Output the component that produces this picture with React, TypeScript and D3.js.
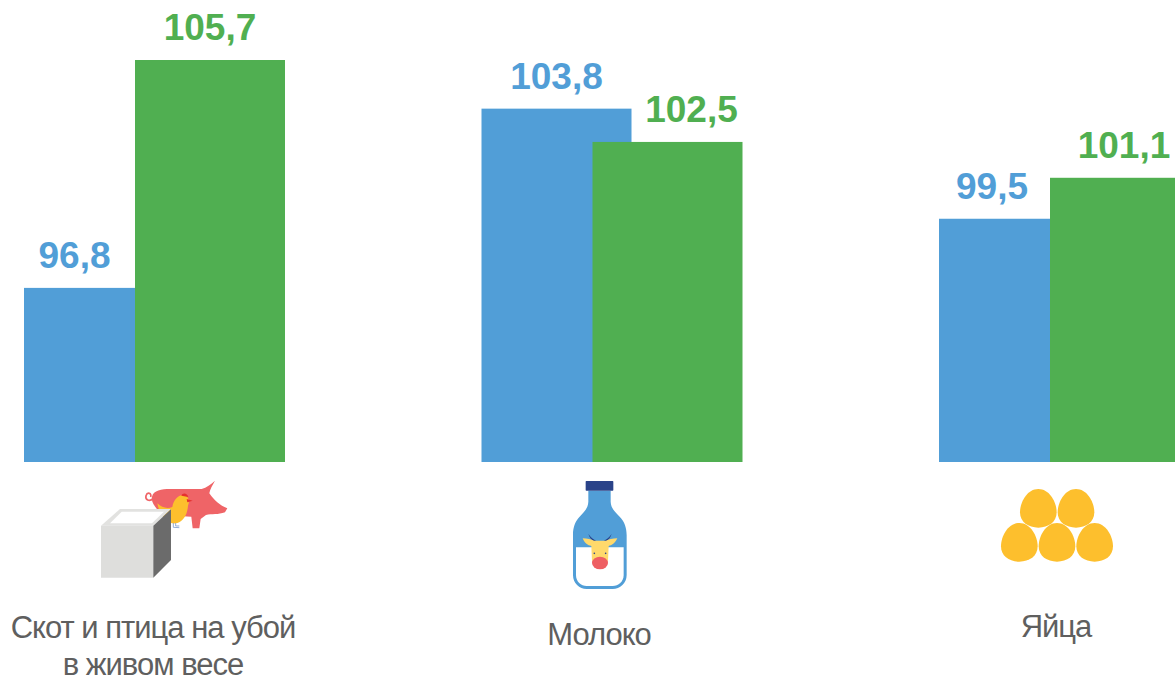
import { useEffect, useRef } from 'react';
import * as d3 from 'd3';

const categories = ['Скот и птица на убой|в живом весе', 'Молоко', 'Яйца'];
const blueValues = [96.8, 103.8, 99.5];
const greenValues = [105.7, 102.5, 101.1];

const BLUE = '#519ed7';
const GREEN = '#50af51';
const YELLOW = '#fdbf2d';
const TEXT = '#5f5f5f';

const eggCenters: [number, number][] = [[145, 100], [258, 100], [88, 202], [201, 202], [314, 202]];

// labels do not sit centred on the bars in the original
const blueLabelShift = [-24.5, 0, -22];
const greenLabelShift = [0, 24, -1];
const categoryCenters = [153, 599, 1056];
const categoryBaselines = [638, 645, 637];

export default function App() {
    const ref = useRef<SVGSVGElement | null>(null);

    useEffect(() => {
        if (!ref.current) return;
        const svg = d3.select(ref.current);
        svg.selectAll('*').remove();

        const width = 1175;
        const height = 676;
        const barWidth = 150;
        const greenOffset = 111;

        const x = d3.scalePoint<string>().domain(categories).range([24, 939]);
        const y = d3.scaleLinear().domain([90, 105.7]).range([462, 60]);
        const fmt = (v: number) => d3.format('.1f')(v).replace('.', ',');

        const chart = svg.append('g');

        chart.selectAll('rect.blue')
            .data(blueValues)
            .enter()
            .append('rect')
            .attr('class', 'blue')
            .attr('x', (_, i) => x(categories[i])!)
            .attr('y', (d) => y(d))
            .attr('width', barWidth)
            .attr('height', (d) => y(90) - y(d))
            .attr('fill', BLUE);

        chart.selectAll('rect.green')
            .data(greenValues)
            .enter()
            .append('rect')
            .attr('class', 'green')
            .attr('x', (_, i) => x(categories[i])! + greenOffset)
            .attr('y', (d) => y(d))
            .attr('width', barWidth)
            .attr('height', (d) => y(90) - y(d))
            .attr('fill', GREEN);

        const valueLabel = (values: number[], cls: string, color: string, pos: (i: number) => number) => {
            chart.selectAll(`text.${cls}`)
                .data(values)
                .enter()
                .append('text')
                .attr('class', cls)
                .attr('x', (_, i) => pos(i))
                .attr('y', (d) => y(d) - 20)
                .attr('text-anchor', 'middle')
                .attr('fill', color)
                .style('font-size', '37px')
                .style('font-weight', 'bold')
                .text((d) => fmt(d));
        };
        valueLabel(blueValues, 'blue-label', BLUE, (i) => x(categories[i])! + barWidth / 2 + blueLabelShift[i]);
        valueLabel(greenValues, 'green-label', GREEN, (i) => x(categories[i])! + greenOffset + barWidth / 2 + greenLabelShift[i]);

        // category captions, '|' marks a line break
        categories.forEach((c, i) => {
            c.split('|').forEach((line, j) => {
                svg.append('text')
                    .attr('x', categoryCenters[i])
                    .attr('y', categoryBaselines[i] + j * 37)
                    .attr('text-anchor', 'middle')
                    .attr('fill', TEXT)
                    .style('font-size', '31px')
                    .style('letter-spacing', '-1px')
                    .text(line);
            });
        });

        // Icons, drawn in 3x crop units so they are easier to trace
        const meat = svg.append('g').attr('transform', 'translate(90,465) scale(0.3333)');
        meat.append('path')
            .attr('d', 'M190,100 C178,112 165,104 168,92 C172,80 186,84 182,96')
            .attr('fill', 'none')
            .attr('stroke', '#ef6467')
            .attr('stroke-width', 5);
        meat.append('path')
            .attr('d', 'M186,95 C190,76 215,72 240,72 L335,72 C350,68 362,58 375,47 C368,60 360,72 358,85 C372,105 390,122 412,130 L405,142 C385,150 365,146 348,150 L332,162 L328,190 L308,190 L304,155 L215,150 C200,130 182,115 186,95 Z')
            .attr('fill', '#ef6467');
        meat.append('path')
            .attr('d', 'M202,115 C215,128 232,132 247,126 C250,108 262,90 280,90 C296,92 300,108 294,122 C292,150 280,168 262,174 C240,180 212,165 202,115 Z')
            .attr('fill', YELLOW);
        meat.append('path').attr('d', 'M274,92 C278,82 292,84 295,96 Z').attr('fill', '#e5312e');
        meat.append('path').attr('d', 'M290,102 L308,107 L292,112 Z').attr('fill', '#e5312e');
        meat.append('path')
            .attr('d', 'M250,174 L250,187 L268,188 M257,174 L257,183 L268,183')
            .attr('fill', 'none')
            .attr('stroke', '#7f9ccb')
            .attr('stroke-width', 2.5);
        meat.append('polygon').attr('points', '33,182 90,132 243,132 190,182').attr('fill', '#e2e2e0');
        meat.append('polygon').attr('points', '60,175 95,140 222,140 186,175').attr('fill', '#ffffff');
        meat.append('polygon').attr('points', '33,182 190,182 190,338 33,338').attr('fill', '#dededc');
        meat.append('polygon').attr('points', '190,182 243,133 243,285 190,338').attr('fill', '#6b6b6b');

        const bottle = svg.append('g').attr('transform', 'translate(550,470) scale(0.3333)');
        bottle.append('path')
            .attr('d', 'M115,62 L182,62 L182,95 C184,135 230,135 230,195 L230,315 C230,340 210,357 188,357 L110,357 C88,357 69,340 69,315 L69,195 C69,135 113,135 115,95 Z')
            .attr('fill', BLUE);
        bottle.append('path')
            .attr('d', 'M78,232 L221,232 L221,315 C221,335 205,348 188,348 L110,348 C93,348 78,335 78,315 Z')
            .attr('fill', '#ffffff');
        bottle.append('rect').attr('x', 107).attr('y', 33).attr('width', 83).attr('height', 29).attr('rx', 2).attr('fill', '#2a4389');
        bottle.append('path')
            .attr('d', 'M115,192 C122,202 130,208 140,214 L134,216 C124,210 118,202 115,192 Z M185,192 C178,202 170,208 160,214 L166,216 C176,210 182,202 185,192 Z')
            .attr('fill', '#2a4389');
        bottle.append('path')
            .attr('d', 'M98,205 C112,205 124,208 132,212 L168,212 C176,208 188,205 202,205 C195,220 185,226 176,228 L174,272 L126,272 L124,228 C114,226 104,220 98,205 Z')
            .attr('fill', '#ffd96b');
        bottle.append('ellipse').attr('cx', 150).attr('cy', 279).attr('rx', 24).attr('ry', 19).attr('fill', '#ee5f63');
        bottle.append('circle').attr('cx', 133).attr('cy', 250).attr('r', 2.5).attr('fill', '#2a4389');
        bottle.append('circle').attr('cx', 167).attr('cy', 250).attr('r', 2.5).attr('fill', '#2a4389');

        const eggs = svg.append('g').attr('transform', 'translate(990,475) scale(0.3333)');
        eggs.selectAll('path')
            .data(eggCenters)
            .enter()
            .append('path')
            .attr('transform', (d) => `translate(${d[0]},${d[1]})`)
            .attr('d', 'M0,-58 C34,-58 55,-18 55,12 C55,42 30,58 0,58 C-30,58 -55,42 -55,12 C-55,-18 -34,-58 0,-58 Z')
            .attr('fill', YELLOW);

        svg.attr('width', width).attr('height', height);
    }, []);

    return (
        <svg
            ref={ref}
            style={{
                display: 'block',
                position: 'absolute',
                left: 0,
                top: 0,
                background: '#fff',
                fontFamily: '"Liberation Sans", Arial, sans-serif',
            }}
        />
    );
}
